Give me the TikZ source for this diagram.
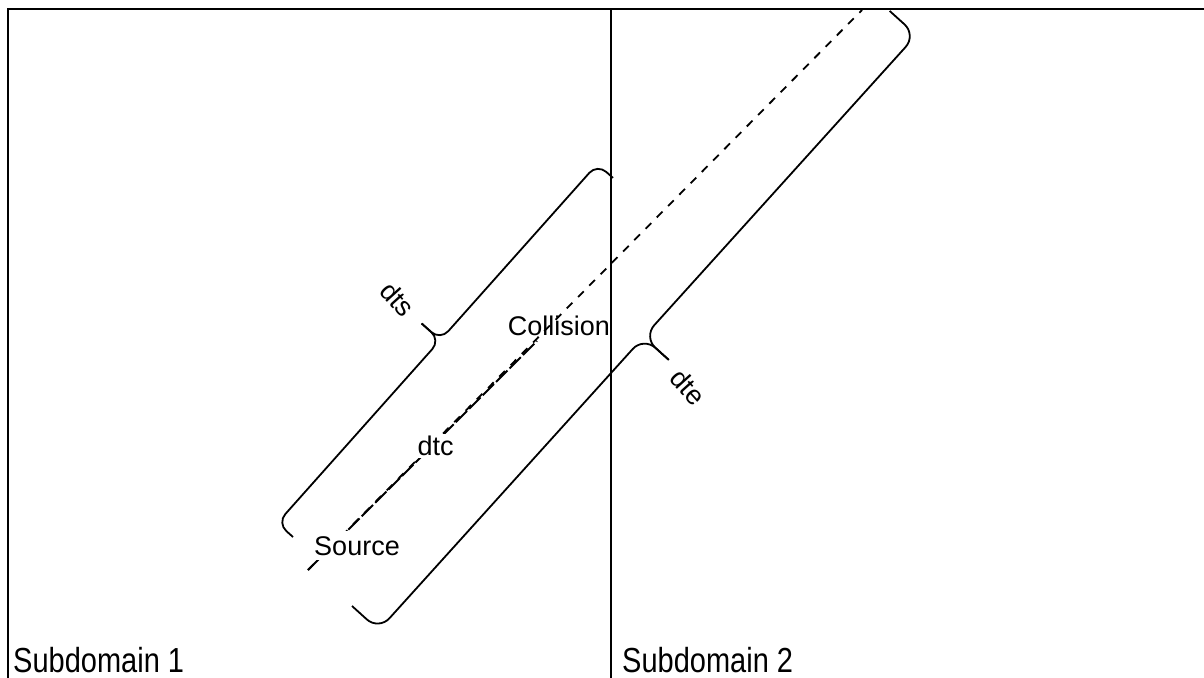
\documentclass[tikz,border=0pt]{standalone}
\usepackage{fontspec}
\setmainfont{Liberation Sans}
\usepackage{graphicx}

\begin{document}
\begin{tikzpicture}[x=1pt, y=-1pt,
  frame/.style={draw=black, line width=1.8pt},
  ray/.style={draw=black, line width=1.8pt, dash pattern=on 8pt off 8pt},
  dtcline/.style={draw=black, line width=1.8pt, dash pattern=on 16pt off 3pt},
  bracket/.style={draw=black, line width=1.8pt, rounded corners=12pt},
  lbl/.style={font=\fontsize{27}{32}\selectfont, inner sep=2pt},
  sub/.style={font=\fontsize{29}{34}\selectfont, inner sep=0pt, anchor=base west}
]
\useasboundingbox (0,0) rectangle (1204,677);
\clip (0,0) rectangle (1204,677);

% the two subdomains
\draw[frame] (8,9) rectangle (611,720);
\draw[frame] (611,9) rectangle (1260,720);

\node[sub] (sub1) at (13,672) {\scalebox{1}[1.2]{Subdomain 1}};
\node[sub] (sub2) at (622,672) {\scalebox{1}[1.2]{Subdomain 2}};

% ray from the source
\coordinate (src)  at (308,570);
\coordinate (hit)  at (537,341);
\coordinate (exit) at (862,10);

\draw[ray] (src) -- (exit);
\draw[dtcline] (src) -- (hit)
  node[lbl, fill=white, pos=0.54, xshift=4pt] (dtc) {dtc};

\node[lbl, fill=white, inner ysep=5pt, anchor=base] (source) at (357,555) {Source};
\node[lbl, anchor=base] (collision) at (559,335) {Collision};

% dts bracket
\begin{scope}[shift={(293,537)}, rotate=48.3]
  \draw[bracket] (0,0) -- (0,-21) -- (245,-21) -- (245,-46);
  \draw[bracket] (481,0) -- (481,-21) -- (245,-21) -- (245,-46);
\end{scope}
\node[lbl, rotate=-48] (dts) at (398,299) {dts};

% dte bracket
\begin{scope}[shift={(352,606)}, rotate=47.9]
  \draw[bracket, rounded corners=16pt] (0,0) -- (0,36) -- (395,36) -- (395,70);
  \draw[bracket, rounded corners=16pt] (802,0) -- (802,36) -- (395,36) -- (395,70);
\end{scope}
\node[lbl, rotate=-48] (dte) at (688,387) {dte};

\end{tikzpicture}
\end{document}
